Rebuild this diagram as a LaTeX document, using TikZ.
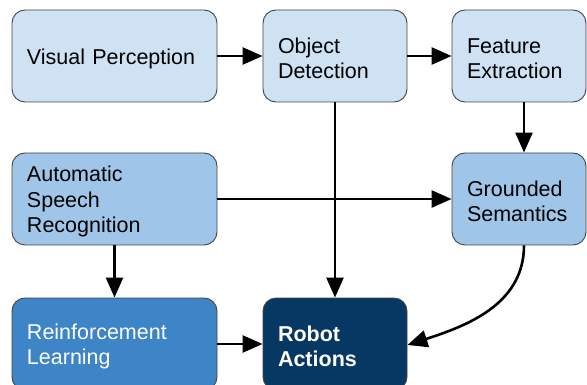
\documentclass[tikz,border=0pt]{standalone}
\usepackage{fontspec}
\setmainfont{Liberation Sans}
\usetikzlibrary{arrows.meta}
\definecolor{lightA}{HTML}{CFE2F3}
\definecolor{lightB}{HTML}{9FC5E8}
\definecolor{midblue}{HTML}{3D85C6}
\definecolor{darkblue}{HTML}{073763}
\definecolor{edgegray}{HTML}{444444}
\tikzset{
  box/.style={draw=edgegray, line width=0.9pt, rounded corners=13pt,
    minimum height=92pt, inner sep=0pt},
  txt/.style={inner xsep=15pt, inner ysep=0pt, align=left, yshift=-2.5pt,
    font=\fontsize{21.5pt}{25.5pt}\selectfont},
  wide/.style={minimum width=205pt},
  mid/.style={minimum width=144pt},
  narrow/.style={minimum width=134pt},
  twide/.style={txt, text width=175pt},
  tmid/.style={txt, text width=114pt},
  tnarrow/.style={txt, text width=104pt},
  conn/.style={line width=2.6pt, -{Triangle[length=20pt,width=17pt]}}
}
\begin{document}
\begin{tikzpicture}[x=1pt,y=-1pt]
\useasboundingbox (0,0) rectangle (587,385);
\node[box,wide,fill=lightA,label={[twide]center:Visual Perception}] (vp) at (114.5,56) {};
\node[box,mid,fill=lightA,label={[tmid]center:{Object\\Detection}}] (od) at (335,56) {};
\node[box,narrow,fill=lightA,label={[tnarrow]center:{Feature\\Extraction}}] (fe) at (519,56) {};
\node[box,wide,fill=lightB,label={[twide]center:{Automatic\\Speech\\Recognition}}] (asr) at (114.5,199) {};
\node[box,narrow,fill=lightB,label={[tnarrow]center:{Grounded\\Semantics}}] (gs) at (519,199) {};
\node[box,wide,fill=midblue,label={[twide,text=white]center:{Reinforcement\\Learning}}] (rl) at (114.5,344) {};
\node[box,mid,fill=darkblue,label={[tmid,text=white,font=\fontsize{21.5pt}{25.5pt}\selectfont\bfseries]center:{Robot\\Actions}}] (ra) at (335,344) {};
\draw[conn] (vp) -- (od);
\draw[conn] (od) -- (fe);
\draw[conn] ([xshift=5pt]fe.south) -- ([xshift=5pt]gs.north);
\draw[conn] (asr) -- (gs);
\draw[conn] (od) -- (ra);
\draw[conn] (asr) -- (rl);
\draw[conn] (rl) -- (ra);
\draw[conn] ([xshift=5pt]gs.south) to[out=-90,in=18] ([yshift=-1pt]ra.east);
\end{tikzpicture}
\end{document}
